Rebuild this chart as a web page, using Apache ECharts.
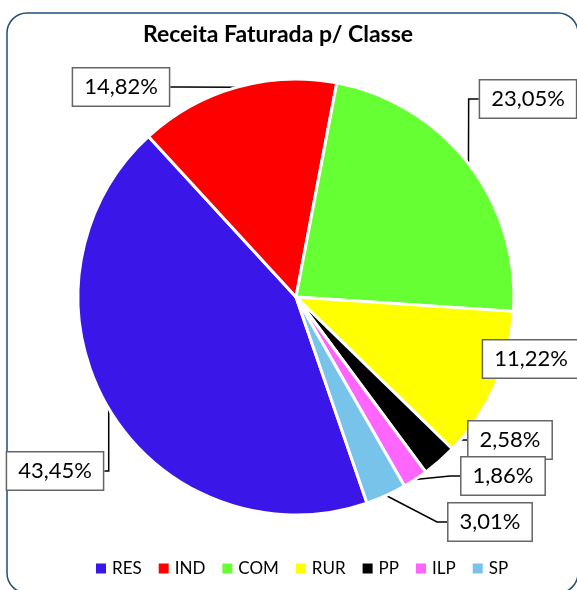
<!DOCTYPE html>
<html>
<head>
<meta charset="utf-8">
<script src="https://cdn.jsdelivr.net/npm/echarts@6/dist/echarts.min.js"></script>
<style>
html,body{margin:0;padding:0;background:#fff;}
#chart{width:577px;height:590px;}
</style>
</head>
<body>
<div id="chart"></div>
<script>
var classes = ['RES', 'IND', 'COM', 'RUR', 'PP', 'ILP', 'SP'];
var shares = [43.45, 14.82, 23.05, 11.22, 2.58, 1.86, 3.01];
var colors = ['#3a17e8', '#ff0000', '#66ff33', '#ffff00', '#000000', '#ff66ff', '#77c3ea'];
// where Excel put each label box (centre)
var labelPos = [[55, 471], [121, 87], [528, 99], [531, 359], [510, 440], [503, 476], [490, 522]];

function init(){
	var data = [];
	for (var i = 0; i < classes.length; i++) {
		data.push({value: shares[i], name: classes[i], itemStyle: {color: colors[i]}});
	}
	var option = {
		title: {
			text: 'Receita Faturada p/ Classe',
			left: 273,
			top: 18,
			textAlign: 'center',
			textStyle: {fontFamily: 'Lato', fontSize: 23, fontWeight: 'bold', color: '#000'}
		},
		legend: {
			top: 555,
			left: 89,
			itemWidth: 12,
			itemHeight: 12,
			itemGap: 15,
			icon: 'rect',
			data: classes,
			textStyle: {fontFamily: 'Lato', fontSize: 17, color: '#000'}
		},
		graphic: [{
			type: 'rect',
			shape: {x: 7, y: 13, width: 571, height: 580, r: 20},
			style: {fill: 'none', stroke: '#1f4e79', lineWidth: 1.5},
			silent: true
		}],
		series: [{
			type: 'pie',
			center: [296, 297],
			radius: 218,
			startAngle: 289,
			clockwise: true,
			animation: false,
			avoidLabelOverlap: false,
			itemStyle: {borderColor: '#fff', borderWidth: 3},
			label: {
				show: true,
				formatter: function(p){
					return p.value.toFixed(2).replace('.', ',') + '%';
				},
				fontFamily: 'Lato',
				fontSize: 22,
				color: '#000',
				backgroundColor: '#fff',
				borderColor: '#666',
				borderWidth: 1.5,
				padding: [8, 11, 7, 11]
			},
			labelLine: {show: true, length: 10, length2: 10, lineStyle: {color: '#000', width: 1.5}},
			labelLayout: function(p){
				var pos = labelPos[p.dataIndex];
				return {x: pos[0], y: pos[1], align: 'center', verticalAlign: 'middle'};
			},
			data: data
		}]
	};
	var myChart = echarts.init(document.getElementById('chart'));
	myChart.setOption(option);
}
init();
</script>
</body>
</html>
